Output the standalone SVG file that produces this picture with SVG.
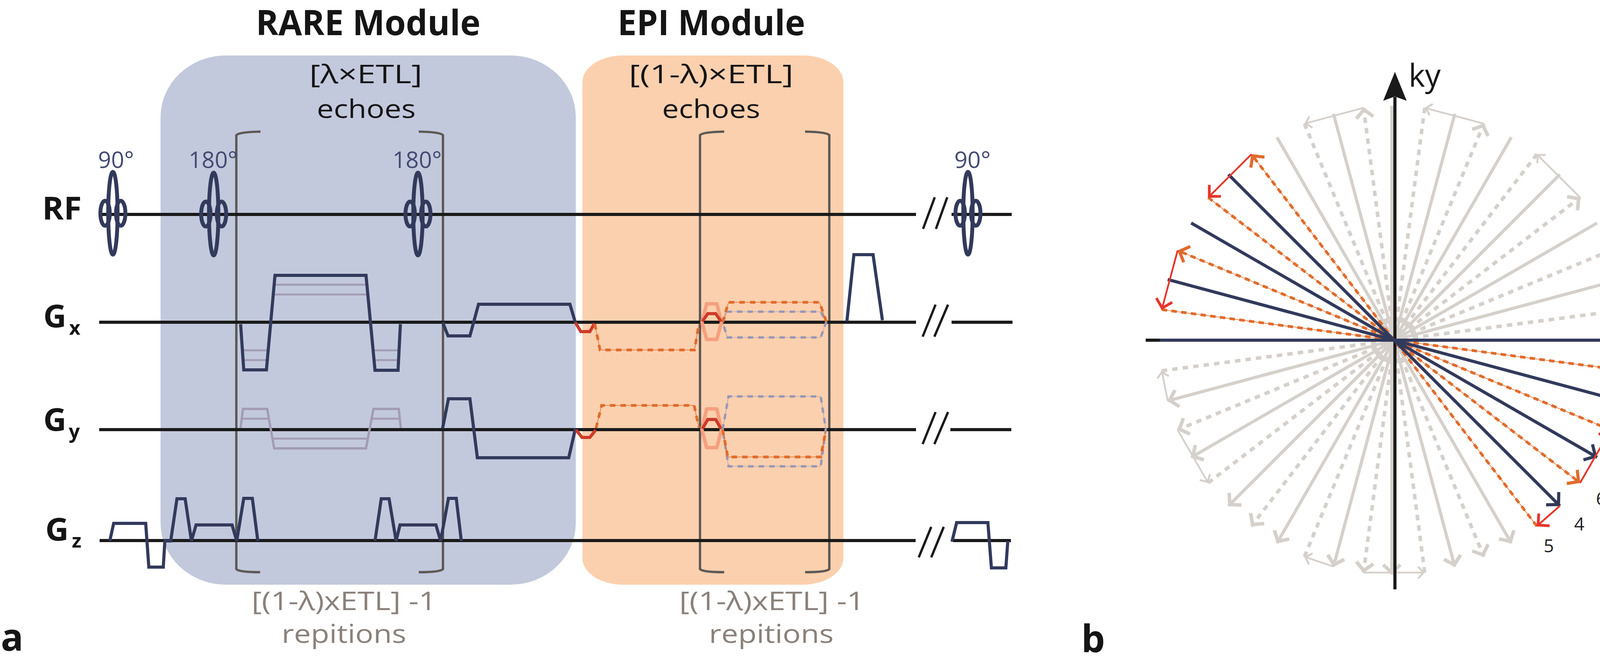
<svg xmlns="http://www.w3.org/2000/svg" width="4383" height="1718" viewBox="0 0 4383 1718">
<style>
text{font-family:"Open Sans","Liberation Sans",sans-serif}
.ttl{font-weight:700;font-size:90px;fill:#151515}
.lbl{font-size:66px;fill:#151515}
.deg{font-size:58px;fill:#434a72}
.ax{font-weight:700;font-size:80px;fill:#151515}
.sub{font-weight:700;font-size:50px;fill:#151515}
.rep{font-size:66px;fill:#8a817b}
.pl{font-weight:700;font-size:96px;fill:#151515}
.num{font-size:46px;fill:#231f20}
.kl{font-size:80px;fill:#151515}
.bl{stroke:#1a1a1a;stroke-width:8;fill:none}
.sl{stroke:#1a1a1a;stroke-width:6;fill:none}
.br{stroke:#5e5955;stroke-width:6;fill:none}
.nv{stroke:#323a5c;stroke-width:8;fill:none;stroke-linejoin:miter}
.pu{stroke:#323a5c;stroke-width:10;fill:none}
.lp{stroke:#a39cb3;stroke-width:6;fill:none}
.lpt{stroke:#a39cb3;stroke-width:5;fill:none}
.od{stroke:#e06c2c;stroke-width:7;stroke-dasharray:14 13;fill:none}
.ot{stroke:#e06c2c;stroke-width:1.5;fill:none}
.gd{stroke:#9a97b5;stroke-width:6;stroke-dasharray:14 13;fill:none}
.gt{stroke:#9a97b5;stroke-width:1.2;fill:none}
.sal{stroke:#f5a07f;stroke-width:9;fill:none;stroke-linejoin:round}
.rd{stroke:#cd3a2a;stroke-width:8;fill:none}
.gs{stroke:#d5d0cb;stroke-width:8;fill:none}
.gds{stroke:#d5d0cb;stroke-width:9;stroke-dasharray:14 13;fill:none}
.gc{stroke:#d5d0cb;stroke-width:4.5;fill:none}
.ns{stroke:#323a5c;stroke-width:8;fill:none}
.ods{stroke:#e06c2c;stroke-width:7;stroke-dasharray:14 11;fill:none}
.odt{stroke:#e06c2c;stroke-width:1.5;fill:none}
.rc{stroke:#e8352b;stroke-width:4.5;fill:none}
</style>
<defs>
<marker id="mN" markerUnits="userSpaceOnUse" orient="auto" overflow="visible" refX="0" refY="0" markerWidth="2" markerHeight="2"><path d="M-27,-23 L-5,0 L-27,23" fill="none" stroke="#323a5c" stroke-width="8"/></marker>
<marker id="mO" markerUnits="userSpaceOnUse" orient="auto" overflow="visible" refX="0" refY="0" markerWidth="2" markerHeight="2"><path d="M-26,-22 L-5,0 L-26,22" fill="none" stroke="#e06c2c" stroke-width="8"/></marker>
<marker id="mR" markerUnits="userSpaceOnUse" orient="auto" overflow="visible" refX="0" refY="0" markerWidth="2" markerHeight="2"><path d="M-25,-21 L-4,0 L-25,21" fill="none" stroke="#e8352b" stroke-width="7"/></marker>
<marker id="mG" markerUnits="userSpaceOnUse" orient="auto" overflow="visible" refX="0" refY="0" markerWidth="2" markerHeight="2"><path d="M-25,-22 L-5,0 L-25,22" fill="none" stroke="#d5d0cb" stroke-width="9"/></marker>
<marker id="mg" markerUnits="userSpaceOnUse" orient="auto" overflow="visible" refX="0" refY="0" markerWidth="2" markerHeight="2"><path d="M-17,-15 L-3,0 L-17,15" fill="none" stroke="#d5d0cb" stroke-width="5"/></marker>
</defs>

<g id="rare-module">
<rect x="411" y="142" width="1063" height="1355" rx="167" ry="158" fill="#c2c9dd"/>
<text class="ttl" x="655" y="90" textLength="575" lengthAdjust="spacingAndGlyphs">RARE Module</text>
<text class="lbl" x="792" y="213" textLength="289" lengthAdjust="spacingAndGlyphs">[λ×ETL]</text>
<text class="lbl" x="811" y="302" textLength="253" lengthAdjust="spacingAndGlyphs">echoes</text>
<text class="rep" x="644" y="1562" textLength="473" lengthAdjust="spacingAndGlyphs">[(1-λ)xETL] -1</text>
<text class="rep" x="721" y="1646" textLength="319" lengthAdjust="spacingAndGlyphs">repitions</text>
</g>
<g id="epi-module">
<rect x="1491" y="142" width="668" height="1355" rx="104" ry="68" fill="#fbd0ae"/>
<text class="ttl" x="1581" y="90" textLength="480" lengthAdjust="spacingAndGlyphs">EPI Module</text>
<text class="lbl" x="1610" y="213" textLength="421" lengthAdjust="spacingAndGlyphs">[(1-λ)×ETL]</text>
<text class="lbl" x="1695" y="302" textLength="251" lengthAdjust="spacingAndGlyphs">echoes</text>
<text class="rep" x="1739" y="1562" textLength="474" lengthAdjust="spacingAndGlyphs">[(1-λ)xETL] -1</text>
<text class="rep" x="1815" y="1646" textLength="319" lengthAdjust="spacingAndGlyphs">repitions</text>
</g>
<g id="brackets">
<path class="br" d="M667,337 Q612,338 605,346 L605,1457 Q612,1465 666,1465"/>
<path class="br" d="M1072,337 Q1127,338 1134,346 L1134,1457 Q1127,1465 1072,1465"/>
<path class="br" d="M1854,337 Q1799,338 1792,346 L1792,1457 Q1799,1465 1854,1465"/>
<path class="br" d="M2061,337 Q2116,338 2123,346 L2123,1457 Q2116,1465 2061,1465"/>
</g>
<g id="row-labels">
<text class="ax" x="108" y="562" textLength="101" lengthAdjust="spacingAndGlyphs">RF</text>
<text class="ax" x="111" y="838" textLength="59" lengthAdjust="spacingAndGlyphs">G</text><text class="sub" x="177" y="857">x</text>
<text class="ax" x="111" y="1103" textLength="59" lengthAdjust="spacingAndGlyphs">G</text><text class="sub" x="176" y="1122">y</text>
<text class="ax" x="116" y="1384" textLength="60" lengthAdjust="spacingAndGlyphs">G</text><text class="sub" x="184" y="1402">z</text>
<text class="pl" x="2" y="1666">a</text>
<text class="pl" x="2768" y="1670">b</text>
</g>
<g id="baselines">
<path class="bl" d="M256,549 H2345 M2436,549 H2590"/>
<path class="bl" d="M254,825 H2345 M2436,825 H2592"/>
<path class="bl" d="M254,1100 H2345 M2433,1100 H2589"/>
<path class="bl" d="M255,1384 H2344 M2440,1384 H2588"/>
<path class="sl" d="M2363,586 L2393,505 M2396,586 L2425,505"/>
<path class="sl" d="M2362,862 L2395,780 M2392,862 L2427,780"/>
<path class="sl" d="M2362,1137 L2395,1055 M2392,1137 L2427,1055"/>
<path class="sl" d="M2352,1427 L2384,1349 M2384,1427 L2416,1349"/>
</g>
<g id="rf-pulses">
<text class="deg" x="251" y="430" textLength="92" lengthAdjust="spacingAndGlyphs">90°</text>
<text class="deg" x="483" y="430" textLength="125" lengthAdjust="spacingAndGlyphs">180°</text>
<text class="deg" x="1005" y="430" textLength="126" lengthAdjust="spacingAndGlyphs">180°</text>
<text class="deg" x="2443" y="430" textLength="93" lengthAdjust="spacingAndGlyphs">90°</text>
<g class="pu"><ellipse cx="289" cy="546" rx="12" ry="106"/><ellipse cx="269" cy="546" rx="12" ry="32"/><ellipse cx="309" cy="546" rx="12" ry="32"/></g>
<g class="pu"><ellipse cx="547" cy="548" rx="12" ry="106"/><ellipse cx="527" cy="548" rx="12" ry="32"/><ellipse cx="567" cy="548" rx="12" ry="32"/></g>
<g class="pu"><ellipse cx="1070" cy="548" rx="12" ry="106"/><ellipse cx="1050" cy="548" rx="12" ry="32"/><ellipse cx="1090" cy="548" rx="12" ry="32"/></g>
<g class="pu"><ellipse cx="2478" cy="546" rx="12" ry="106"/><ellipse cx="2458" cy="546" rx="12" ry="32"/><ellipse cx="2498" cy="546" rx="12" ry="32"/></g>
</g>
<g id="gx">
<path class="lpt" d="M621,897 H686 M622,922 H684 M955,897 H1022 M958,922 H1020 M702,729 H939 M701,754 H941"/>
<path class="nv" d="M616,830 L624,947 L682,947 L704,705 L937,705 L960,948 L1019,948 L1025,830"/>
<path class="nv" d="M1133,825 L1147,860 L1203,860 L1225,779 L1459,779 L1473,826"/>
<path class="rd" d="M1473,826 L1487,849 L1510,849 L1522,828"/>
<path class="ot" d="M1523,830 L1536,896 L1778,896 L1789,830"/>
<path class="od" d="M1523,830 L1536,896 L1778,896 L1789,830"/>
<path class="sal" d="M1797,825 L1809,778 L1835,778 L1847,825 L1835,869 L1809,869 Z"/>
<path class="rd" d="M1798,823 L1812,803 L1832,803 L1846,823"/>
<path class="gt" d="M1850,825 L1862,798 L2101,798 L2115,825 L2101,864 L1862,864 Z"/>
<path class="gd" d="M1850,825 L1862,798 L2101,798 L2115,825 L2101,864 L1862,864 Z"/>
<path class="ot" d="M1850,825 L1865,774 L2098,774 L2115,823"/>
<path class="od" d="M1850,825 L1865,774 L2098,774 L2115,823"/>
<path class="nv" d="M2168,823 L2186,652 L2235,652 L2259,820"/>
</g>
<g id="gy">
<path class="lp" d="M616,1096 L622,1047 L684,1047 L702,1148 L937,1148 L956,1047 L1021,1047 L1026,1096"/>
<path class="lpt" d="M619,1072 H688 M952,1072 H1023 M697,1123 H942"/>
<path class="nv" d="M1133,1097 L1148,1021 L1203,1021 L1222,1172 L1456,1172 L1473,1097"/>
<path class="rd" d="M1475,1101 L1490,1120 L1510,1120 L1525,1101"/>
<path class="ot" d="M1526,1096 L1540,1038 L1777,1038 L1789,1094"/>
<path class="od" d="M1526,1096 L1540,1038 L1777,1038 L1789,1094"/>
<path class="sal" d="M1797,1100 L1809,1047 L1835,1047 L1847,1100 L1835,1146 L1809,1146 Z"/>
<path class="rd" d="M1798,1098 L1812,1074 L1832,1074 L1846,1098"/>
<path class="gt" d="M1850,1100 L1865,1015 L2101,1015 L2114,1098 L2101,1194 L1865,1194 Z"/>
<path class="gd" d="M1850,1100 L1865,1015 L2101,1015 L2114,1098 L2101,1194 L1865,1194 Z"/>
<path class="ot" d="M1850,1100 L1863,1170 L2101,1170 L2114,1103"/>
<path class="od" d="M1850,1100 L1863,1170 L2101,1170 L2114,1103"/>
</g>
<g id="gz">
<path class="nv" d="M281,1385 L291,1340 L373,1340 L381,1452 L418,1452 L422,1385 L437,1385 L453,1277 L474,1277 L490,1385 L502,1344 L594,1344 L606,1385 L624,1276 L646,1276 L660,1385"/>
<path class="nv" d="M960,1385 L976,1277 L996,1277 L1014,1385 L1024,1344 L1116,1344 L1128,1385 L1148,1276 L1168,1276 L1181,1385"/>
<path class="nv" d="M2437,1387 L2449,1338 L2529,1338 L2538,1454 L2575,1454 L2580,1385"/>
</g>

<g id="kspace-gray">
<g class="gs">
<line x1="4148.6" y1="715.7" x2="2989.4" y2="1026.3" marker-end="url(#mG)"/>
<line x1="4088.6" y1="571" x2="3049.4" y2="1171" marker-end="url(#mG)"/>
<line x1="3993.3" y1="446.7" x2="3144.7" y2="1295.3" marker-end="url(#mG)"/>
<line x1="3869" y1="351.4" x2="3269" y2="1390.6" marker-end="url(#mG)"/>
<line x1="3724.3" y1="291.4" x2="3413.7" y2="1450.6" marker-end="url(#mG)"/>
<line x1="3563" y1="271" x2="3563" y2="1471" marker-end="url(#mG)"/>
<line x1="3413.7" y1="291.4" x2="3724.3" y2="1450.6" marker-end="url(#mG)"/>
<line x1="3269" y1="351.4" x2="3869" y2="1390.6" marker-end="url(#mG)"/>
</g>
<g class="gds">
<line x1="2974.1" y1="949.3" x2="4163.9" y2="792.7" marker-end="url(#mG)"/>
<line x1="4123.3" y1="641.4" x2="3014.7" y2="1100.6" marker-end="url(#mG)"/>
<line x1="3093" y1="1236.3" x2="4045" y2="505.7" marker-end="url(#mG)"/>
<line x1="3934.3" y1="395" x2="3203.7" y2="1347" marker-end="url(#mG)"/>
<line x1="3339.4" y1="1425.3" x2="3798.6" y2="316.7" marker-end="url(#mG)"/>
<line x1="3647.3" y1="276.1" x2="3490.7" y2="1465.9" marker-end="url(#mG)"/>
<line x1="3647.3" y1="1465.9" x2="3490.7" y2="276.1" marker-end="url(#mG)"/>
<line x1="3339.4" y1="316.7" x2="3798.6" y2="1425.3" marker-end="url(#mG)"/>
</g>
<g class="gc">
<line x1="2989.4" y1="1026.3" x2="2974.1" y2="949.3" marker-end="url(#mg)"/>
<line x1="4163.9" y1="792.7" x2="4123.3" y2="641.4" marker-end="url(#mg)"/>
<line x1="3014.7" y1="1100.6" x2="3093" y2="1236.3" marker-end="url(#mg)"/>
<line x1="4045" y1="505.7" x2="3934.3" y2="395" marker-end="url(#mg)"/>
<line x1="3413.7" y1="1450.6" x2="3339.4" y2="1425.3" marker-end="url(#mg)"/>
<line x1="3798.6" y1="316.7" x2="3647.3" y2="276.1" marker-end="url(#mg)"/>
<line x1="3490.7" y1="1465.9" x2="3647.3" y2="1465.9" marker-end="url(#mg)"/>
<line x1="3490.7" y1="276.1" x2="3339.4" y2="316.7" marker-end="url(#mg)"/>
</g>
</g>
<g id="kspace-axes">
<line class="bl" x1="2933" y1="871" x2="4195" y2="871"/>
<path d="M4258,871 L4185,840 L4196,871 L4185,902 Z" fill="#1a1a1a"/>
<line class="bl" x1="3571" y1="1509" x2="3571" y2="248"/>
<path d="M3571,184 L3601,258 L3571,247 L3541,258 Z" fill="#1a1a1a"/>
<text class="kl" x="3606" y="222">ky</text>
<text class="kl" x="4262" y="898">kx</text>
</g>
<g id="kspace-epi">
<g class="odt">
<line x1="3934.3" y1="1347" x2="3203.7" y2="395"/>
<line x1="3093" y1="505.7" x2="4045" y2="1236.3"/>
<line x1="4123.3" y1="1100.6" x2="3014.7" y2="641.4"/>
<line x1="2974.1" y1="792.7" x2="4163.9" y2="949.3"/>
</g>
<g class="ods">
<line x1="3934.3" y1="1347" x2="3203.7" y2="395" marker-end="url(#mO)"/>
<line x1="3093" y1="505.7" x2="4045" y2="1236.3" marker-end="url(#mO)"/>
<line x1="4123.3" y1="1100.6" x2="3014.7" y2="641.4" marker-end="url(#mO)"/>
<line x1="2974.1" y1="792.7" x2="4163.9" y2="949.3" marker-end="url(#mO)"/>
</g>
</g>
<g id="kspace-rare">
<g class="ns">
<line x1="2969" y1="871" x2="4169" y2="871" marker-end="url(#mN)"/>
<line x1="2989.4" y1="715.7" x2="4148.6" y2="1026.3" marker-end="url(#mN)"/>
<line x1="3049.4" y1="571" x2="4088.6" y2="1171" marker-end="url(#mN)"/>
<line x1="3144.7" y1="446.7" x2="3993.3" y2="1295.3" marker-end="url(#mN)"/>
</g>
</g>
<g id="kspace-blips" class="rc">
<line x1="3993.3" y1="1295.3" x2="3934.3" y2="1347" marker-end="url(#mR)"/>
<line x1="3203.7" y1="395" x2="3093" y2="505.7" marker-end="url(#mR)"/>
<line x1="4045" y1="1236.3" x2="4123.3" y2="1100.6" marker-end="url(#mR)"/>
<line x1="3014.7" y1="641.4" x2="2974.1" y2="792.7" marker-end="url(#mR)"/>
</g>
<g id="kspace-labels">
<text class="num" x="4219" y="934" text-anchor="middle">1</text>
<text class="num" x="4214" y="996" text-anchor="middle">8</text>
<text class="num" x="4199" y="1081" text-anchor="middle">2</text>
<text class="num" x="4179" y="1155" text-anchor="middle">7</text>
<text class="num" x="4139" y="1224" text-anchor="middle">3</text>
<text class="num" x="4099" y="1293" text-anchor="middle">6</text>
<text class="num" x="4043" y="1358" text-anchor="middle">4</text>
<text class="num" x="3965" y="1414" text-anchor="middle">5</text>
</g>
</svg>
